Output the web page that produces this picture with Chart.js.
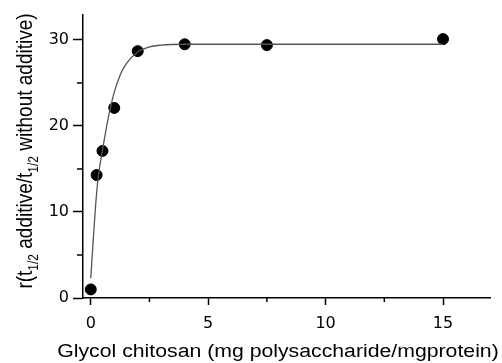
<!DOCTYPE html>
<html>
<head>
<meta charset="utf-8">
<script src="https://cdn.jsdelivr.net/npm/chart.js@4.4.1/dist/chart.umd.min.js"></script>
<style>
  html, body { margin: 0; padding: 0; background: #fff; }
  #wrap { width: 502px; height: 363px; }
</style>
</head>
<body>
<div id="wrap"><canvas id="grafico" width="502" height="363"></canvas></div>
<script>
// measured points
const dosisX = [0, 0.25, 0.5, 1, 2, 4, 7.5, 15];
const ratioY = [1.0, 14.3, 17.1, 22.1, 28.7, 29.5, 29.4, 30.1];

// fitted curve
const curvaX = [0, 0.1, 0.2, 0.3, 0.4, 0.5, 0.75, 1, 1.25, 1.5, 2, 2.5, 3, 4, 6, 10, 15];
const curvaY = [2.3, 6.5, 10.5, 13.6, 15.6, 17.2, 21.0, 23.9, 25.9, 27.2, 28.6, 29.2, 29.4, 29.5, 29.5, 29.5, 29.5];

const ticksX = [0, 2.5, 5, 7.5, 10, 12.5, 15];
const ticksY = [0, 5, 10, 15, 20, 25, 30];

const tituloX = 'Glycol chitosan (mg polysaccharide/mgprotein)';
const partesY = [['r(t', 0], ['1/2', 1], [' additive/t', 0], ['1/2', 1], [' without additive)', 0]];

const fuente = "'Liberation Sans', Arial, sans-serif";

// short minor ticks + both axis titles (the original is a bit stretched sideways)
const extras = {
  id: 'extras',
  afterDraw(chart) {
    const ctx = chart.ctx;
    const sx = chart.scales.x, sy = chart.scales.y;
    ctx.save();
    ctx.strokeStyle = '#000';
    ctx.lineWidth = 1.5;
    ticksX.forEach(v => {
      if (v % 5 !== 0) {
        const px = sx.getPixelForValue(v);
        ctx.beginPath(); ctx.moveTo(px, sx.top); ctx.lineTo(px, sx.top + 4); ctx.stroke();
      }
    });
    ticksY.forEach(v => {
      if (v % 10 !== 0) {
        const py = sy.getPixelForValue(v);
        ctx.beginPath(); ctx.moveTo(sy.right, py); ctx.lineTo(sy.right - 6, py); ctx.stroke();
      }
    });
    ctx.restore();

    // x title
    ctx.save();
    ctx.fillStyle = '#000';
    ctx.font = '18px ' + fuente;
    ctx.textAlign = 'center';
    ctx.textBaseline = 'alphabetic';
    ctx.translate(278, 357);
    ctx.scale(1.18, 1);
    ctx.fillText(tituloX, 0, 0);
    ctx.restore();

    // y title with subscripts
    ctx.save();
    ctx.fillStyle = '#000';
    ctx.textBaseline = 'alphabetic';
    let total = 0;
    partesY.forEach(p => {
      ctx.font = (p[1] ? 12 : 19) + 'px ' + fuente;
      total += ctx.measureText(p[0]).width;
    });
    ctx.translate(32, 151);
    ctx.rotate(-Math.PI / 2);
    ctx.scale(1, 1.2);
    let x = -total / 2;
    partesY.forEach(p => {
      ctx.font = (p[1] ? 12 : 19) + 'px ' + fuente;
      ctx.fillText(p[0], x, p[1] ? 5 : 0);
      x += ctx.measureText(p[0]).width;
    });
    ctx.restore();
  }
};

const ctx = document.getElementById('grafico').getContext('2d');
const chart = new Chart(ctx, {
  type: 'scatter',
  data: {
    datasets: [{
      label: 'ajuste',
      type: 'line',
      data: curvaX.map((v, i) => ({ x: v, y: curvaY[i] })),
      borderColor: '#555',
      borderWidth: 1.3,
      pointRadius: 0,
      cubicInterpolationMode: 'monotone',
      fill: false
    }, {
      label: 'datos',
      data: dosisX.map((v, i) => ({ x: v, y: ratioY[i] })),
      backgroundColor: '#000',
      borderColor: '#000',
      pointRadius: 5.5,
      pointHoverRadius: 5.5
    }]
  },
  options: {
    responsive: false,
    animation: false,
    events: [],
    layout: { padding: { top: 15, right: 12, left: 0, bottom: 0 } },
    plugins: { legend: { display: false }, tooltip: { enabled: false } },
    scales: {
      x: {
        type: 'linear',
        min: -0.33,
        max: 17,
        afterBuildTicks: s => { s.ticks = ticksX.map(v => ({ value: v })); },
        afterFit: s => { s.height = 65; },
        border: { display: true, color: '#000', width: 1.5 },
        grid: {
          drawOnChartArea: false,
          drawTicks: true,
          tickLength: 7,
          tickWidth: 1.5,
          tickColor: c => (c.tick && c.tick.value % 5 === 0) ? '#000' : 'rgba(0,0,0,0)'
        },
        ticks: {
          color: '#000',
          font: { family: "'DejaVu Sans', sans-serif", size: 16 },
          padding: 9,
          maxRotation: 0,
          callback: v => (v % 5 === 0 ? String(v) : '')
        }
      },
      y: {
        type: 'linear',
        min: 0,
        max: 32.9,
        afterBuildTicks: s => { s.ticks = ticksY.map(v => ({ value: v })); },
        afterFit: s => { s.width = 83; },
        border: { display: true, color: '#000', width: 1.5 },
        grid: {
          drawOnChartArea: false,
          drawTicks: true,
          tickLength: 10,
          tickWidth: 1.5,
          tickColor: c => (c.tick && c.tick.value % 10 === 0) ? '#000' : 'rgba(0,0,0,0)'
        },
        ticks: {
          color: '#000',
          font: { family: "'DejaVu Sans', sans-serif", size: 16 },
          padding: 4,
          callback: v => (v % 10 === 0 ? String(v) : '')
        }
      }
    }
  },
  plugins: [extras]
});
</script>
</body>
</html>
